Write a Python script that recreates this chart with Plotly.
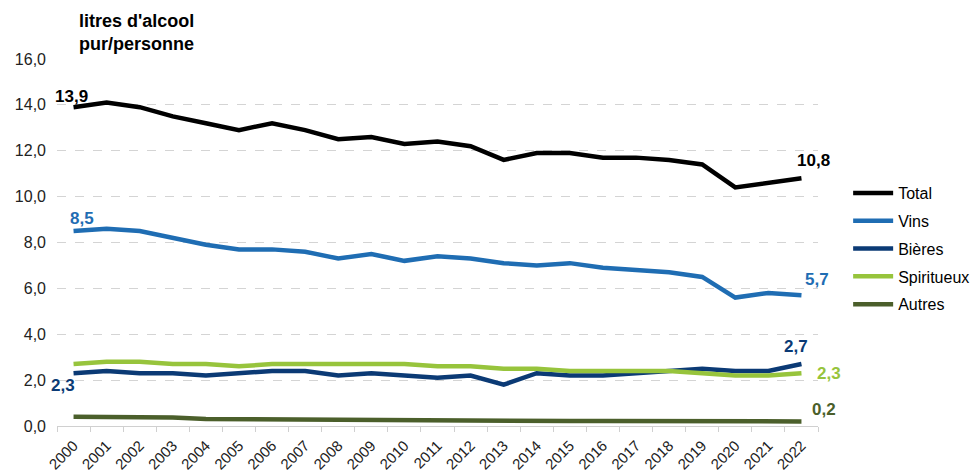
import plotly.graph_objects as go

years = [str(y) for y in range(2000, 2023)]

total = [13.9, 14.1, 13.9, 13.5, 13.2, 12.9, 13.2, 12.9, 12.5, 12.6, 12.3, 12.4,
         12.2, 11.6, 11.9, 11.9, 11.7, 11.7, 11.6, 11.4, 10.4, 10.6, 10.8]
vins = [8.5, 8.6, 8.5, 8.2, 7.9, 7.7, 7.7, 7.6, 7.3, 7.5, 7.2, 7.4,
        7.3, 7.1, 7.0, 7.1, 6.9, 6.8, 6.7, 6.5, 5.6, 5.8, 5.7]
bieres = [2.3, 2.4, 2.3, 2.3, 2.2, 2.3, 2.4, 2.4, 2.2, 2.3, 2.2, 2.1,
          2.2, 1.8, 2.3, 2.2, 2.2, 2.3, 2.4, 2.5, 2.4, 2.4, 2.7]
spiritueux = [2.7, 2.8, 2.8, 2.7, 2.7, 2.6, 2.7, 2.7, 2.7, 2.7, 2.7, 2.6,
              2.6, 2.5, 2.5, 2.4, 2.4, 2.4, 2.4, 2.3, 2.2, 2.2, 2.3]
autres = [0.4, 0.4, 0.4, 0.37, 0.3, 0.29, 0.29, 0.26, 0.25, 0.25, 0.25, 0.25,
          0.25, 0.22, 0.22, 0.22, 0.22, 0.22, 0.22, 0.22, 0.19, 0.21, 0.2]

series = [
    ("Total", total, "#000000"),
    ("Vins", vins, "#1f6db3"),
    ("Bières", bieres, "#0b3a75"),
    ("Spiritueux", spiritueux, "#97c43c"),
    ("Autres", autres, "#4b5f2b"),
]

FONT = "Liberation Sans, Arial, sans-serif"

fig = go.Figure()
for name, vals, color in series:
    fig.add_trace(go.Scatter(
        x=years, y=vals, name=name, mode="lines", legendgroup=name,
        line=dict(color=color, width=4.5),
    ))

# value labels at first/last year: (series, index, colour, xshift, yshift)
first, last = 0, len(years) - 1
labels = [
    (total, first, "#000000", -2, 11),
    (total, last, "#000000", 12, 18),
    (vins, first, "#1f6db3", 8, 13),
    (vins, last, "#1f6db3", 16, 16),
    (bieres, first, "#0b3a75", -11, -12),
    (bieres, last, "#0b3a75", -5, 18),
    (spiritueux, last, "#97c43c", 28, 0),
    (autres, last, "#4b5f2b", 23, 12),
]
for vals, idx, color, dx, dy in labels:
    v = vals[idx]
    fig.add_annotation(
        x=idx, y=v, text=f"{v:.1f}".replace(".", ","),
        showarrow=False, xshift=dx, yshift=dy,
        font=dict(family=FONT, size=17, color=color, weight="bold"),
    )

fig.add_annotation(
    xref="paper", yref="paper", x=0.026, y=1.135,
    xanchor="left", yanchor="top", align="left",
    text="litres d'alcool<br>pur/personne", showarrow=False,
    font=dict(family=FONT, size=18, color="#000000", weight="bold"),
)

fig.update_layout(
    width=976, height=474,
    margin=dict(l=57, r=158, t=59, b=48, autoexpand=False),
    paper_bgcolor="white", plot_bgcolor="white",
    separators=",.",
    font=dict(family=FONT, size=14, color="#222222"),
    showlegend=True,
    legend=dict(
        xref="container", x=0.869, y=0.681, xanchor="left", yanchor="top",
        font=dict(family=FONT, size=16, color="#000000"),
        tracegroupgap=4, itemwidth=40,
        bgcolor="rgba(0,0,0,0)",
    ),
    xaxis=dict(
        type="category", tickangle=-45, tickson="boundaries",
        range=[-0.5, len(years) - 0.5], automargin=False,
        ticks="outside", ticklen=5, tickcolor="#d0d0d0",
        showline=True, linecolor="#d0d0d0", linewidth=1,
        showgrid=False, ticklabelstandoff=4,
        tickfont=dict(family=FONT, size=15, color="#222222"),
    ),
    yaxis=dict(
        range=[0, 16], dtick=2, tickformat=".1f", automargin=False,
        showgrid=True, gridcolor="#d4d4d4", griddash="dash", gridwidth=1,
        zeroline=False, showline=False, ticks="", ticklabelstandoff=10,
        tickfont=dict(family=FONT, size=16, color="#222222"),
    ),
)

fig.write_html("out.html")
